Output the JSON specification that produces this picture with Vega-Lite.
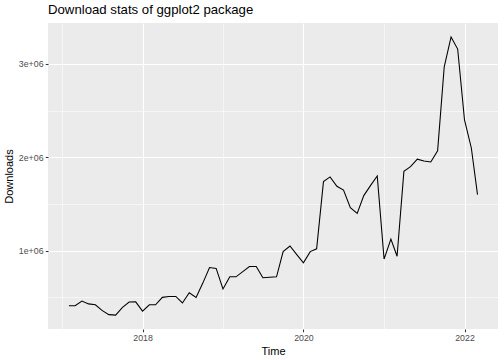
{
  "$schema": "https://vega.github.io/schema/vega-lite/v6.json",
  "width": 450,
  "height": 306,
  "autosize": {"type": "none"},
  "padding": {"left": 48, "top": 23, "right": 6, "bottom": 31},
  "background": "white",
  "title": {"text": "Download stats of ggplot2 package", "anchor": "start", "frame": "group", "fontSize": 13.2, "font": "Liberation Sans", "fontWeight": "normal", "color": "black", "offset": 8, "dy": 12, "baseline": "alphabetic"},
  "data": {"values": [
    {"date": "2017-02-01", "downloads": 410000},
    {"date": "2017-03-01", "downloads": 410000},
    {"date": "2017-04-01", "downloads": 460000},
    {"date": "2017-05-01", "downloads": 430000},
    {"date": "2017-06-01", "downloads": 420000},
    {"date": "2017-07-01", "downloads": 360000},
    {"date": "2017-08-01", "downloads": 315000},
    {"date": "2017-09-01", "downloads": 310000},
    {"date": "2017-10-01", "downloads": 390000},
    {"date": "2017-11-01", "downloads": 450000},
    {"date": "2017-12-01", "downloads": 452000},
    {"date": "2018-01-01", "downloads": 352000},
    {"date": "2018-02-01", "downloads": 420000},
    {"date": "2018-03-01", "downloads": 420000},
    {"date": "2018-04-01", "downloads": 500000},
    {"date": "2018-05-01", "downloads": 510000},
    {"date": "2018-06-01", "downloads": 510000},
    {"date": "2018-07-01", "downloads": 440000},
    {"date": "2018-08-01", "downloads": 550000},
    {"date": "2018-09-01", "downloads": 500000},
    {"date": "2018-10-01", "downloads": 650000},
    {"date": "2018-11-01", "downloads": 820000},
    {"date": "2018-12-01", "downloads": 810000},
    {"date": "2019-01-01", "downloads": 590000},
    {"date": "2019-02-01", "downloads": 720000},
    {"date": "2019-03-01", "downloads": 720000},
    {"date": "2019-04-01", "downloads": 775000},
    {"date": "2019-05-01", "downloads": 830000},
    {"date": "2019-06-01", "downloads": 830000},
    {"date": "2019-07-01", "downloads": 710000},
    {"date": "2019-08-01", "downloads": 715000},
    {"date": "2019-09-01", "downloads": 720000},
    {"date": "2019-10-01", "downloads": 990000},
    {"date": "2019-11-01", "downloads": 1050000},
    {"date": "2019-12-01", "downloads": 960000},
    {"date": "2020-01-01", "downloads": 870000},
    {"date": "2020-02-01", "downloads": 990000},
    {"date": "2020-03-01", "downloads": 1020000},
    {"date": "2020-04-01", "downloads": 1740000},
    {"date": "2020-05-01", "downloads": 1790000},
    {"date": "2020-06-01", "downloads": 1690000},
    {"date": "2020-07-01", "downloads": 1650000},
    {"date": "2020-08-01", "downloads": 1460000},
    {"date": "2020-09-01", "downloads": 1400000},
    {"date": "2020-10-01", "downloads": 1590000},
    {"date": "2020-11-01", "downloads": 1700000},
    {"date": "2020-12-01", "downloads": 1800000},
    {"date": "2021-01-01", "downloads": 910000},
    {"date": "2021-02-01", "downloads": 1125000},
    {"date": "2021-03-01", "downloads": 940000},
    {"date": "2021-04-01", "downloads": 1850000},
    {"date": "2021-05-01", "downloads": 1900000},
    {"date": "2021-06-01", "downloads": 1980000},
    {"date": "2021-07-01", "downloads": 1960000},
    {"date": "2021-08-01", "downloads": 1950000},
    {"date": "2021-09-01", "downloads": 2070000},
    {"date": "2021-10-01", "downloads": 2970000},
    {"date": "2021-11-01", "downloads": 3290000},
    {"date": "2021-12-01", "downloads": 3160000},
    {"date": "2022-01-01", "downloads": 2400000},
    {"date": "2022-02-01", "downloads": 2100000},
    {"date": "2022-03-01", "downloads": 1600000}
  ]},
  "mark": {"type": "line", "color": "black", "strokeWidth": 1.07},
  "encoding": {
    "x": {
      "field": "date", "type": "temporal", "title": "Time",
      "scale": {"domain": [{"year": 2016, "month": 10, "date": 29}, {"year": 2022, "month": 6, "date": 2}], "nice": false},
      "axis": {
        "values": [{"year": 2017, "month": 1, "date": 1}, {"year": 2018, "month": 1, "date": 1}, {"year": 2019, "month": 1, "date": 1}, {"year": 2020, "month": 1, "date": 1}, {"year": 2021, "month": 1, "date": 1}, {"year": 2022, "month": 1, "date": 1}],
        "labelExpr": "year(datum.value) % 2 == 0 ? timeFormat(datum.value, '%Y') : ''",
        "gridWidth": {"condition": {"test": "year(datum.value) % 2 == 1", "value": 0.55}, "value": 1.1},
        "tickOpacity": {"condition": {"test": "year(datum.value) % 2 == 1", "value": 0}, "value": 1},
        "titlePadding": 3
      }
    },
    "y": {
      "field": "downloads", "type": "quantitative", "title": "Downloads",
      "scale": {"domain": [161000, 3439000], "nice": false, "zero": false},
      "axis": {
        "values": [500000, 1000000, 1500000, 2000000, 2500000, 3000000],
        "labelExpr": "datum.value % 1000000 == 0 ? (datum.value / 1000000) + 'e+06' : ''",
        "gridWidth": {"condition": {"test": "datum.value % 1000000 != 0", "value": 0.55}, "value": 1.1},
        "tickOpacity": {"condition": {"test": "datum.value % 1000000 != 0", "value": 0}, "value": 1},
        "titlePadding": 4
      }
    }
  },
  "config": {
    "view": {"fill": "#EBEBEB", "stroke": null},
    "axis": {
      "domain": false,
      "gridColor": "white",
      "labelFont": "Liberation Sans",
      "labelFontSize": 8.8,
      "labelColor": "#4D4D4D",
      "labelPadding": 2.2,
      "tickSize": 2.75,
      "tickColor": "#333333",
      "tickWidth": 1.07,
      "titleFont": "Liberation Sans",
      "titleFontSize": 11,
      "titleFontWeight": "normal",
      "titleColor": "black"
    }
  }
}
